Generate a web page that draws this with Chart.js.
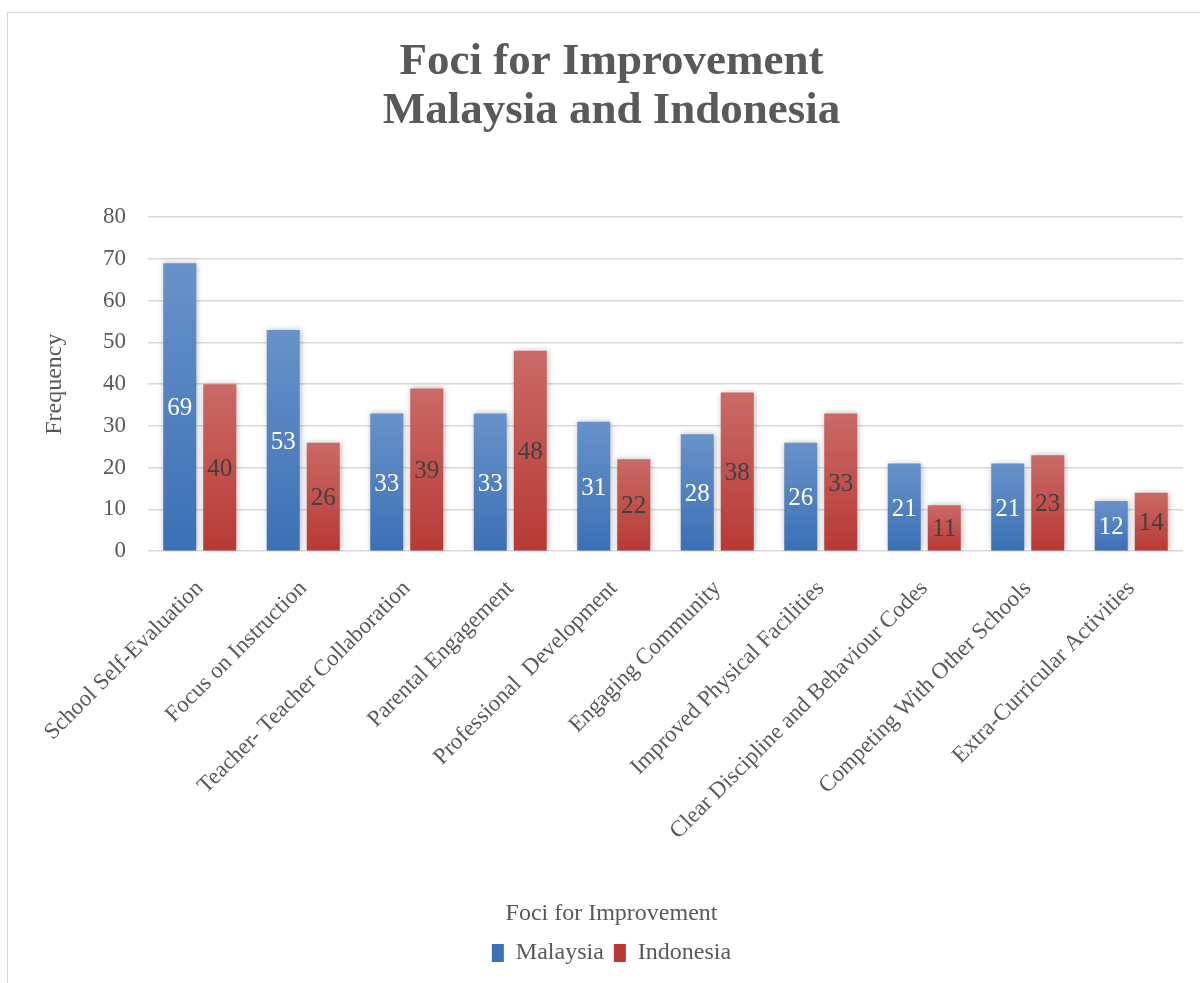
<!DOCTYPE html>
<html>
<head>
<meta charset="utf-8">
<script src="https://cdn.jsdelivr.net/npm/chart.js@4.4.1/dist/chart.umd.min.js"></script>
<style>
  html, body { margin: 0; padding: 0; background: #fff; overflow: hidden; }
  #wrap { position: relative; width: 1200px; height: 983px; }
  #frame { position: absolute; left: 7px; top: 12px; width: 1300px; height: 1100px; border: 1.5px solid #D9D9D9; box-sizing: border-box; }
  canvas { position: absolute; left: 0; top: 0; }
</style>
</head>
<body>
<div id="wrap">
  <div id="frame"></div>
  <canvas id="c" width="1200" height="983"></canvas>
</div>
<script>
const categories = [
  "School Self-Evaluation",
  "Focus on Instruction",
  "Teacher- Teacher Collaboration",
  "Parental Engagement",
  "Professional  Development",
  "Engaging Community",
  "Improved Physical Facilities",
  "Clear Discipline and Behaviour Codes",
  "Competing With Other Schools",
  "Extra-Curricular Activities"
];
const malaysia = [69, 53, 33, 33, 31, 28, 26, 21, 21, 12];
const indonesia = [40, 26, 39, 48, 22, 38, 33, 11, 23, 14];
const seriesNames = ["Malaysia", "Indonesia"];
const titleLines = ["Foci for Improvement", "Malaysia and Indonesia"];
const xTitle = "Foci for Improvement";
const yTitle = "Frequency";

const FONT = "'Liberation Serif', 'Times New Roman', serif";
const TXT = "#595959";

function gradFill(top, bottom, solid) {
  return (ctx) => {
    const chart = ctx.chart;
    if (!chart.chartArea || ctx.type !== 'data') return solid;
    const y = chart.scales.y;
    const yt = y.getPixelForValue(ctx.raw);
    const yb = y.getPixelForValue(0);
    const g = chart.ctx.createLinearGradient(0, yt, 0, yb);
    g.addColorStop(0, top);
    g.addColorStop(1, bottom);
    return g;
  };
}

const shadowPlugin = {
  id: 'shadow',
  beforeDatasetDraw(chart) {
    const c = chart.ctx;
    c.save();
    c.shadowColor = 'rgba(0,0,0,0.28)';
    c.shadowBlur = 6;
    c.shadowOffsetX = 1;
    c.shadowOffsetY = 0;
  },
  afterDatasetDraw(chart) { chart.ctx.restore(); }
};

const labelPlugin = {
  id: 'barLabels',
  afterDatasetsDraw(chart) {
    const c = chart.ctx;
    c.save();
    c.font = "25px " + FONT;
    c.textAlign = 'center';
    c.textBaseline = 'middle';
    chart.data.datasets.forEach((ds, i) => {
      const meta = chart.getDatasetMeta(i);
      c.fillStyle = i === 0 ? '#FFFFFF' : '#404040';
      meta.data.forEach((el, j) => {
        c.fillText(String(ds.data[j]), el.x, (el.y + el.base) / 2 + 2);
      });
    });
    c.restore();
  }
};

new Chart(document.getElementById('c'), {
  type: 'bar',
  data: {
    labels: categories,
    datasets: [
      { label: seriesNames[0], data: malaysia,
        backgroundColor: gradFill('#6892C9', '#3B70B6', '#4F81BD'),
        categoryPercentage: 0.773, barPercentage: 0.825 },
      { label: seriesNames[1], data: indonesia,
        backgroundColor: gradFill('#CA6A66', '#B83935', '#C0504D'),
        categoryPercentage: 0.773, barPercentage: 0.825 }
    ]
  },
  options: {
    responsive: false,
    animation: false,
    devicePixelRatio: 1,
    layout: { padding: { left: 40, right: 17, top: 0, bottom: 8 } },
    plugins: {
      title: {
        display: true, text: titleLines, color: TXT,
        font: { family: FONT, size: 45, weight: 'bold', lineHeight: 1.08 },
        padding: { top: 38, bottom: 82 }
      },
      legend: {
        display: true, position: 'bottom',
        title: { display: true, text: xTitle, color: TXT,
                 font: { family: FONT, size: 24 }, padding: { top: 16, bottom: 0 } },
        labels: { color: TXT, font: { family: FONT, size: 24 },
                  boxWidth: 12, boxHeight: 18, padding: 10 }
      },
      tooltip: { enabled: false }
    },
    scales: {
      x: {
        grid: { display: false, drawTicks: false },
        border: { display: false },
        ticks: { color: TXT, font: { family: FONT, size: 23 }, maxRotation: 45, minRotation: 45, padding: 24, autoSkip: false },
        afterFit: (s) => { s.height = 335; }
      },
      y: {
        min: 0, max: 80,
        grid: { color: '#D9D9D9', lineWidth: 1.5, drawTicks: false },
        border: { display: false },
        ticks: { stepSize: 10, color: TXT, font: { family: FONT, size: 23 }, padding: 22 },
        title: { display: true, text: yTitle, color: TXT, font: { family: FONT, size: 24 }, padding: { top: 0, bottom: 8 } },
        afterFit: (s) => { s.width = 108; }
      }
    }
  },
  plugins: [shadowPlugin, labelPlugin]
});
</script>
</body>
</html>
